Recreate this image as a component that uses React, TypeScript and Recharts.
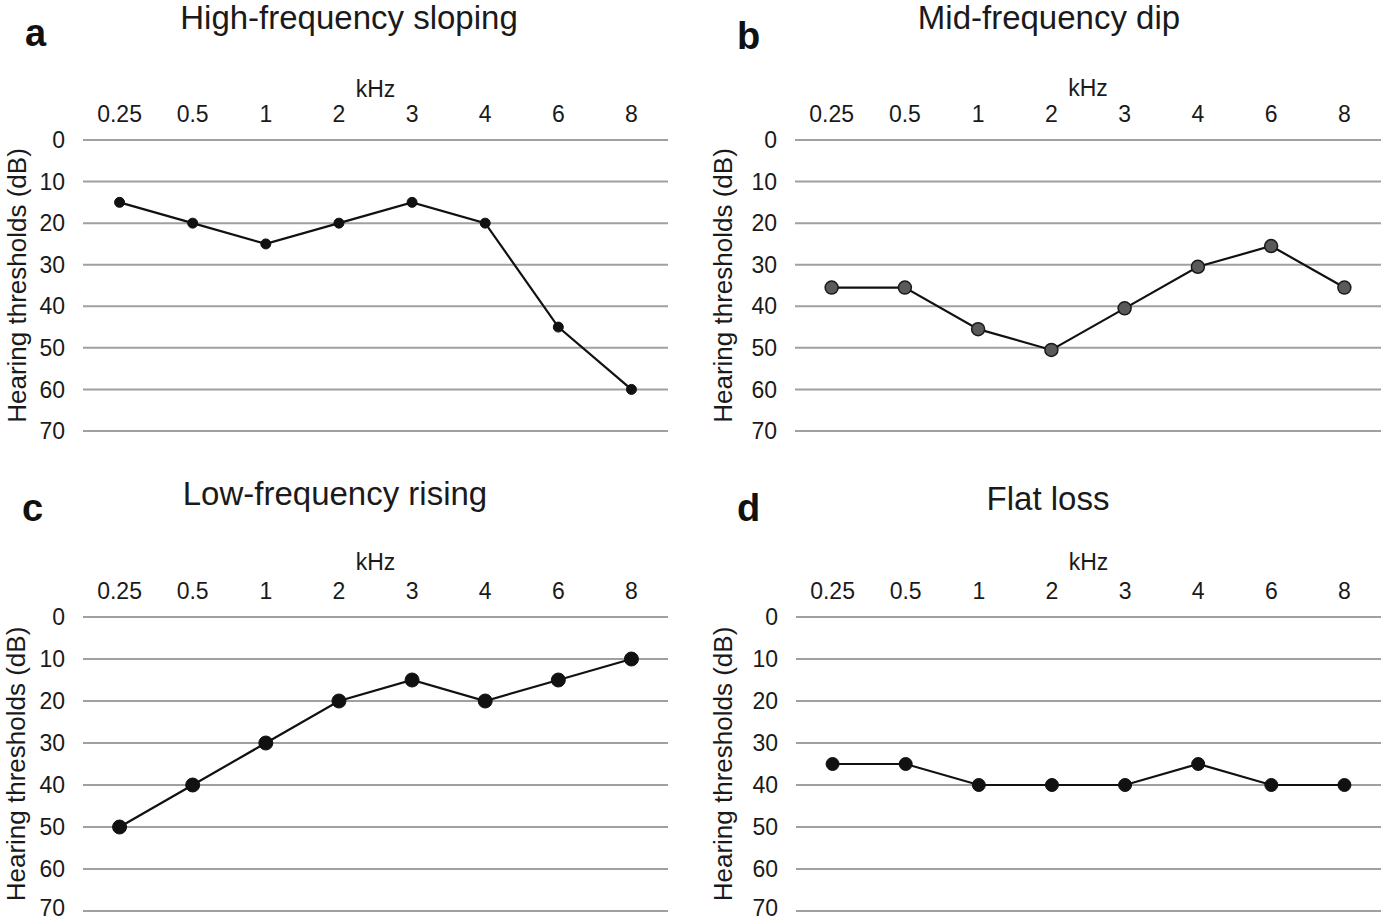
import { LineChart, Line, XAxis, YAxis, CartesianGrid } from "recharts";

const FREQS = ["0.25", "0.5", "1", "2", "3", "4", "6", "8"];
const HF_SLOPING = [15, 20, 25, 20, 15, 20, 45, 60];
const MID_DIP = [35.5, 35.5, 45.5, 50.5, 40.5, 30.5, 25.5, 35.5];
const LF_RISING = [50, 40, 30, 20, 15, 20, 15, 10];
const FLAT_LOSS = [35, 35, 40, 40, 40, 35, 40, 40];
const DB_TICKS = [0, 10, 20, 30, 40, 50, 60, 70];

const FONT = '"Liberation Sans", Arial, Helvetica, sans-serif';
const TEXT = "#1a1a1a";
const GRID = "#a0a0a0";
const AXIS_H = 40;

interface DotStyle {
  r: number;
  fill: string;
  stroke: string;
  strokeWidth: number;
}

interface PanelProps {
  values: number[];
  left: number;
  top: number;
  width: number;
  height: number;
  plotLeft: number;
  plotTop: number;
  plotRight: number;
  plotBottom: number;
  kHzBaseline: number;
  yLabelX: number;
  dot: DotStyle;
}

function Panel(p: PanelProps) {
  const data = FREQS.map((freq, i) => ({ freq, db: p.values[i] }));
  const margin = {
    top: p.plotTop - p.top - AXIS_H,
    right: p.left + p.width - p.plotRight,
    bottom: p.top + p.height - p.plotBottom,
    left: 0,
  };
  // half a category band on each side so the points sit in the band centres
  const half = (p.plotRight - p.plotLeft) / FREQS.length / 2;

  return (
    <div style={{ position: "absolute", left: p.left, top: p.top }}>
      <LineChart width={p.width} height={p.height} data={data} margin={margin}>
        <CartesianGrid vertical={false} stroke={GRID} strokeWidth={2} />
        <XAxis
          dataKey="freq"
          orientation="top"
          height={AXIS_H}
          axisLine={false}
          tickLine={false}
          tickSize={6}
          tickMargin={12}
          interval={0}
          padding={{ left: half, right: half }}
          tick={{ fill: TEXT, fontSize: 23, fontFamily: FONT }}
          label={{
            value: "kHz",
            position: "top",
            offset: margin.top - (p.kHzBaseline - p.top),
            fill: TEXT,
            fontSize: 23,
            fontFamily: FONT,
          }}
        />
        <YAxis
          reversed
          type="number"
          domain={[0, 70]}
          ticks={DB_TICKS}
          width={p.plotLeft - p.left}
          axisLine={false}
          tickLine={false}
          tickSize={6}
          tickMargin={12}
          tick={{ fill: TEXT, fontSize: 23, fontFamily: FONT }}
          label={{
            value: "Hearing thresholds (dB)",
            angle: -90,
            position: "insideLeft",
            offset: p.yLabelX - p.left,
            fill: TEXT,
            fontSize: 26,
            fontFamily: FONT,
            style: { textAnchor: "middle" },
          }}
        />
        <Line
          dataKey="db"
          stroke="#111"
          strokeWidth={2.2}
          dot={p.dot}
          activeDot={false}
          isAnimationActive={false}
        />
      </LineChart>
    </div>
  );
}

const titleStyle = { fontFamily: FONT, fontSize: 33, fill: TEXT };
const letterStyle = { fontFamily: FONT, fontSize: 38, fontWeight: 700, fill: "#111" };

export default function App() {
  return (
    <div
      style={{
        position: "absolute",
        left: 0,
        top: 0,
        width: 1384,
        height: 921,
        background: "#fff",
        overflow: "hidden",
      }}
    >
      <Panel
        values={HF_SLOPING}
        left={0}
        top={0}
        width={692}
        height={460}
        plotLeft={83}
        plotTop={140}
        plotRight={668}
        plotBottom={431}
        kHzBaseline={97}
        yLabelX={16.5}
        dot={{ r: 5, fill: "#111", stroke: "#111", strokeWidth: 1 }}
      />
      <Panel
        values={MID_DIP}
        left={692}
        top={0}
        width={692}
        height={460}
        plotLeft={795}
        plotTop={140}
        plotRight={1381}
        plotBottom={431}
        kHzBaseline={96}
        yLabelX={723}
        dot={{ r: 6.5, fill: "#5a5a5a", stroke: "#1a1a1a", strokeWidth: 1.5 }}
      />
      <Panel
        values={LF_RISING}
        left={0}
        top={460}
        width={692}
        height={461}
        plotLeft={83}
        plotTop={617}
        plotRight={668}
        plotBottom={911}
        kHzBaseline={570}
        yLabelX={16}
        dot={{ r: 7, fill: "#111", stroke: "#111", strokeWidth: 1 }}
      />
      <Panel
        values={FLAT_LOSS}
        left={692}
        top={460}
        width={692}
        height={461}
        plotLeft={796}
        plotTop={617}
        plotRight={1381}
        plotBottom={911}
        kHzBaseline={570}
        yLabelX={723}
        dot={{ r: 6.5, fill: "#111", stroke: "#111", strokeWidth: 1 }}
      />
      <svg
        width={1384}
        height={921}
        style={{ position: "absolute", left: 0, top: 0, pointerEvents: "none" }}
      >
        <text x={25} y={46} style={letterStyle}>a</text>
        <text x={349} y={29} textAnchor="middle" style={titleStyle}>High-frequency sloping</text>
        <text x={737} y={49} style={letterStyle}>b</text>
        <text x={1049} y={29} textAnchor="middle" style={titleStyle}>Mid-frequency dip</text>
        <text x={22} y={521} style={letterStyle}>c</text>
        <text x={335} y={505} textAnchor="middle" style={titleStyle}>Low-frequency rising</text>
        <text x={737} y={521} style={letterStyle}>d</text>
        <text x={1048} y={510} textAnchor="middle" style={titleStyle}>Flat loss</text>
      </svg>
    </div>
  );
}
